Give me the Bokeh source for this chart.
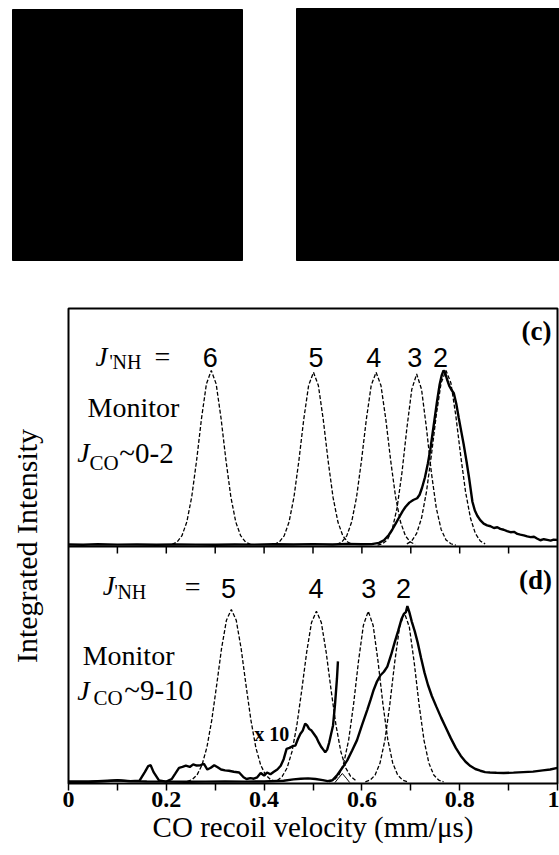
from bokeh.plotting import figure
from bokeh.layouts import column
from bokeh.models import Range1d, Span, Label, FixedTicker
from bokeh.embed import file_html
from bokeh.resources import INLINE

SERIF = "Liberation Serif"
SANS = "Liberation Sans"

# ---------------- data ----------------
# panel (c): monitor J_CO ~ 0-2 ; dashed basis peaks J'_NH = 6,5,4,3,2
c_dash6_x = [0.212,0.222,0.232,0.242,0.252,0.262,0.272,0.282,0.292,0.302,0.312,0.322,0.332,0.342,0.352,0.362,0.372]
c_dash6_y = [0.006,0.020,0.056,0.135,0.278,0.487,0.726,0.923,1.000,0.923,0.726,0.487,0.278,0.135,0.056,0.020,0.006]
c_dash5_x = [0.421,0.431,0.441,0.451,0.461,0.471,0.481,0.491,0.501,0.511,0.521,0.531,0.541,0.551,0.561,0.571,0.581]
c_dash5_y = [0.006,0.020,0.055,0.134,0.275,0.482,0.719,0.914,0.990,0.914,0.719,0.482,0.275,0.134,0.055,0.020,0.006]
c_dash4_x = [0.549,0.559,0.569,0.579,0.589,0.599,0.609,0.619,0.629,0.639,0.649,0.659,0.669,0.679,0.689,0.699,0.709]
c_dash4_y = [0.006,0.020,0.055,0.134,0.275,0.482,0.719,0.914,0.990,0.914,0.719,0.482,0.275,0.134,0.055,0.020,0.006]
c_dash3_x = [0.632,0.642,0.652,0.662,0.672,0.682,0.692,0.702,0.712,0.722,0.732,0.742,0.752,0.762,0.772,0.782,0.792]
c_dash3_y = [0.002,0.010,0.032,0.092,0.216,0.418,0.671,0.892,0.980,0.892,0.671,0.418,0.216,0.092,0.032,0.010,0.002]
c_dash2_x = [0.692,0.702,0.712,0.722,0.732,0.742,0.752,0.762,0.772,0.782,0.792,0.802,0.812,0.822,0.832,0.842,0.852]
c_dash2_y = [0.009,0.026,0.069,0.157,0.306,0.514,0.743,0.929,1.000,0.929,0.743,0.514,0.306,0.157,0.069,0.026,0.009]

c_meas_x = [0, 0.03, 0.06, 0.1, 0.14, 0.18, 0.22, 0.26, 0.3, 0.34, 0.38, 0.42, 0.46, 0.5, 0.54, 0.57, 0.6, 0.62,
            0.635, 0.645, 0.655, 0.662, 0.669, 0.676, 0.683, 0.689, 0.697, 0.705, 0.713, 0.718, 0.723, 0.729,
            0.735, 0.740, 0.744, 0.749, 0.754, 0.759, 0.763, 0.767, 0.770, 0.774, 0.779, 0.783, 0.788, 0.793,
            0.798, 0.803, 0.808, 0.814, 0.819, 0.826, 0.831, 0.836, 0.842, 0.849, 0.856, 0.863, 0.870, 0.877,
            0.883, 0.890, 0.897, 0.904, 0.911, 0.918, 0.924, 0.931, 0.938, 0.945, 0.952, 0.958, 0.965, 0.972,
            0.979, 0.986, 0.992, 1.0]
c_meas_y = [0.006, 0.004, 0.007, 0.005, 0.006, 0.004, 0.006, 0.005, 0.004, 0.006, 0.005, 0.007, 0.006, 0.008, 0.006, 0.009, 0.007, 0.008,
            0.015, 0.030, 0.060, 0.090, 0.125, 0.160, 0.195, 0.220, 0.245, 0.260, 0.270, 0.290, 0.330, 0.390,
            0.470, 0.550, 0.630, 0.730, 0.830, 0.920, 0.970, 1.000, 0.990, 0.950, 0.910, 0.890, 0.870, 0.810,
            0.730, 0.655, 0.580, 0.480, 0.390, 0.250, 0.200, 0.170, 0.145, 0.125, 0.115, 0.110, 0.100, 0.104,
            0.095, 0.090, 0.082, 0.076, 0.078, 0.066, 0.062, 0.058, 0.052, 0.048, 0.050, 0.040, 0.030, 0.036,
            0.032, 0.028, 0.033, 0.032]

# panel (d): monitor J_CO ~ 9-10 ; dashed basis peaks J'_NH = 5,4,3,2
d_dash5_x = [0.243,0.253,0.263,0.273,0.283,0.293,0.303,0.313,0.323,0.333,0.343,0.353,0.363,0.373,0.383,0.393,0.403,0.413,0.423]
d_dash5_y = [0.006,0.017,0.044,0.101,0.203,0.361,0.563,0.775,0.938,1.000,0.938,0.775,0.563,0.361,0.203,0.101,0.044,0.017,0.006]
d_dash4_x = [0.427,0.437,0.447,0.457,0.467,0.477,0.487,0.497,0.507,0.517,0.527,0.537,0.547,0.557,0.567,0.577,0.587]
d_dash4_y = [0.012,0.035,0.084,0.178,0.331,0.534,0.752,0.925,0.990,0.925,0.752,0.534,0.331,0.178,0.084,0.035,0.012]
d_dash3_x = [0.533,0.543,0.553,0.563,0.573,0.583,0.593,0.603,0.613,0.623,0.633,0.643,0.653,0.663,0.673,0.683,0.693]
d_dash3_y = [0.004,0.014,0.044,0.113,0.247,0.453,0.700,0.908,0.990,0.908,0.700,0.453,0.247,0.113,0.044,0.014,0.004]
d_dash2_x = [0.607,0.617,0.627,0.637,0.647,0.657,0.667,0.677,0.687,0.697,0.707,0.717,0.727,0.737,0.747,0.757,0.767]
d_dash2_y = [0.004,0.014,0.043,0.112,0.244,0.449,0.693,0.899,0.980,0.899,0.693,0.449,0.244,0.112,0.043,0.014,0.004]

d_meas_x = [0, 0.04, 0.08, 0.1, 0.12, 0.16, 0.2, 0.24, 0.28, 0.32, 0.36, 0.4, 0.44, 0.46, 0.475, 0.49, 0.505,
            0.52, 0.53, 0.54, 0.55, 0.56, 0.57, 0.58, 0.59, 0.60, 0.611, 0.618, 0.624, 0.631, 0.638, 0.645,
            0.652, 0.660, 0.667, 0.674, 0.681, 0.686, 0.690, 0.693, 0.697, 0.702, 0.708, 0.714, 0.721, 0.728,
            0.735, 0.743, 0.752, 0.762, 0.772, 0.782, 0.792, 0.802, 0.812, 0.822, 0.832, 0.842, 0.852, 0.862,
            0.875, 0.89, 0.91, 0.93, 0.95, 0.97, 0.985, 1.0]
d_meas_y = [0.004, 0.005, 0.010, 0.012, 0.008, 0.006, 0.005, 0.004, 0.005, 0.006, 0.005, 0.006, 0.010, 0.018, 0.022, 0.024, 0.020,
            0.014, 0.008, 0.014, 0.045, 0.085, 0.128, 0.185, 0.245, 0.330, 0.420, 0.480, 0.535, 0.585, 0.620, 0.640,
            0.670, 0.740, 0.810, 0.875, 0.945, 0.975, 0.985, 1.020, 0.985, 0.930, 0.875, 0.810, 0.720, 0.635,
            0.565, 0.500, 0.440, 0.375, 0.315, 0.255, 0.200, 0.155, 0.120, 0.095, 0.078, 0.068, 0.060, 0.058,
            0.056, 0.055, 0.057, 0.060, 0.063, 0.070, 0.075, 0.085]

# low-velocity part magnified x10
d_x10_x = [0, 0.045, 0.08, 0.1, 0.127, 0.145, 0.156, 0.163, 0.168, 0.174, 0.185, 0.2, 0.211, 0.218, 0.226, 0.233,
           0.240, 0.248, 0.255, 0.262, 0.270, 0.277, 0.284, 0.291, 0.298, 0.305, 0.312, 0.320, 0.328, 0.338, 0.349,
           0.358, 0.364, 0.372, 0.379, 0.386, 0.393, 0.400, 0.406, 0.413, 0.420, 0.427, 0.434, 0.440, 0.446, 0.452,
           0.458, 0.464, 0.469, 0.474, 0.479, 0.484, 0.488, 0.492, 0.497, 0.502, 0.507, 0.512, 0.517, 0.521, 0.525,
           0.529, 0.533, 0.537, 0.541, 0.545, 0.549, 0.551]
d_x10_y = [0.004, 0.004, 0.008, 0.013, 0.008, 0.010, 0.060, 0.095, 0.100, 0.060, 0.012, 0.005, 0.020, 0.050, 0.085, 0.090,
           0.097, 0.090, 0.105, 0.098, 0.100, 0.107, 0.075, 0.085, 0.100, 0.088, 0.075, 0.070, 0.068, 0.062, 0.058,
           0.030, 0.020, 0.025, 0.022, 0.030, 0.055, 0.040, 0.058, 0.048, 0.062, 0.075, 0.097, 0.135, 0.194, 0.200,
           0.210, 0.213, 0.250, 0.280, 0.300, 0.340, 0.330, 0.310, 0.300, 0.280, 0.260, 0.230, 0.205, 0.190, 0.175,
           0.190, 0.230, 0.280, 0.330, 0.450, 0.600, 0.700]

d_spike_x = [0.545, 0.552, 0.560, 0.568, 0.575]
d_spike_y = [0.000, 0.025, 0.052, 0.025, 0.000]

# peak labels
c_labels = ["6", "5", "4", "3", "2"]
c_label_x = [0.290, 0.506, 0.624, 0.708, 0.761]
d_labels = ["5", "4", "3", "2"]
d_label_x = [0.327, 0.506, 0.614, 0.685]

x_major = [0, 0.2, 0.4, 0.6, 0.8, 1]
x_minor = [0.1, 0.3, 0.5, 0.7, 0.9]
x_tick_labels = {0: "0", 0.2: "0.2", 0.4: "0.4", 0.6: "0.6", 0.8: "0.8", 1: "1"}

# blacked-out photographs above the spectra (page pixels)
photo_left = [12, 296]
photo_right = [242, 560]
photo_top = [9, 8]
photo_bottom = [260, 260]

# ---------------- layout ----------------
W = 559
TOP_H = 298
MAIN_H = 557
B_L, B_R, B_T, B_B = 68, 2, 10, 72
FRAME_H = MAIN_H - B_T - B_B
C_BASE = 237      # px below frame top
C_UNIT = 175
D_BASE = 474
D_UNIT = 173
DIV = 238

yc_end = C_BASE / C_UNIT
yc_start = -(FRAME_H - C_BASE) / C_UNIT
yd_end = D_BASE / D_UNIT
yd_start = -(FRAME_H - D_BASE) / D_UNIT
y_div = -(DIV - C_BASE) / C_UNIT
tick_len = 7 / C_UNIT

# ---------------- top strip ----------------
t = figure(width=W, height=TOP_H, x_range=Range1d(0, W), y_range=Range1d(TOP_H, 0),
           output_backend="svg", toolbar_location=None, min_border=0,
           x_axis_type=None, y_axis_type=None)
if "frame_align" in t.properties():
    t.frame_align = False
t.outline_line_color = None
t.grid.visible = False
t.quad(left=photo_left, right=photo_right, top=photo_top, bottom=photo_bottom,
       fill_color="black", line_color="black")

# ---------------- main figure ----------------
p = figure(width=W, height=MAIN_H, x_range=Range1d(0, 1), y_range=Range1d(yc_start, yc_end),
           output_backend="svg", toolbar_location=None,
           min_border_left=B_L, min_border_right=B_R, min_border_top=B_T, min_border_bottom=B_B)
if "frame_align" in p.properties():
    p.frame_align = False
p.extra_y_ranges = {"d": Range1d(yd_start, yd_end)}
p.grid.visible = False
p.outline_line_color = "black"
p.outline_line_width = 2
p.background_fill_color = "white"
p.border_fill_color = "white"

ya = p.yaxis[0]
ya.ticker = FixedTicker(ticks=[])
ya.major_tick_out = 0
ya.major_tick_in = 0
ya.minor_tick_out = 0
ya.minor_tick_in = 0
ya.axis_line_color = None
ya.axis_label = "Integrated Intensity"
ya.axis_label_text_font = SERIF
ya.axis_label_text_font_size = "30px"
ya.axis_label_text_font_style = "normal"
ya.axis_label_text_color = "black"
ya.axis_label_standoff = 26

xa = p.xaxis[0]
xa.ticker = FixedTicker(ticks=x_major, minor_ticks=x_minor)
xa.major_label_overrides = x_tick_labels
xa.major_tick_out = 7
xa.major_tick_in = 0
xa.minor_tick_out = 7
xa.minor_tick_in = 0
xa.major_tick_line_width = 1.5
xa.minor_tick_line_width = 1.5
xa.major_tick_line_color = "black"
xa.minor_tick_line_color = "black"
xa.axis_line_color = None
xa.major_label_text_font = SERIF
xa.major_label_text_font_size = "24px"
xa.major_label_text_font_style = "bold"
xa.major_label_text_color = "black"
xa.major_label_standoff = 1
xa.axis_label = "CO recoil velocity (mm/\u03bcs)"
xa.axis_label_text_font = SERIF
xa.axis_label_text_font_size = "29px"
xa.axis_label_text_font_style = "normal"
xa.axis_label_text_color = "black"
xa.axis_label_standoff = 1

DASH = dict(line_color="black", line_width=1.3, line_dash="4 2")
SOLID = dict(line_color="black", line_width=2.4)

for xs, ys in [(c_dash6_x, c_dash6_y), (c_dash5_x, c_dash5_y), (c_dash4_x, c_dash4_y),
               (c_dash3_x, c_dash3_y), (c_dash2_x, c_dash2_y)]:
    p.line(xs, ys, **DASH)
p.line(c_meas_x, c_meas_y, **SOLID)

for xs, ys in [(d_dash5_x, d_dash5_y), (d_dash4_x, d_dash4_y),
               (d_dash3_x, d_dash3_y), (d_dash2_x, d_dash2_y)]:
    p.line(xs, ys, y_range_name="d", **DASH)
p.line(d_spike_x, d_spike_y, y_range_name="d", line_color="black", line_width=1.0)
p.line(d_meas_x, d_meas_y, y_range_name="d", **SOLID)
p.line(d_x10_x, d_x10_y, y_range_name="d", **SOLID)

# divider between the two panels, with its ticks hanging into (d)
p.add_layout(Span(location=y_div, dimension="width", line_color="black", line_width=2))
div_ticks = x_minor + x_major[1:-1]
p.segment(x0=div_ticks, y0=[y_div] * len(div_ticks), x1=div_ticks,
          y1=[y_div - tick_len] * len(div_ticks), line_color="black", line_width=1.5)


def txt(x, y, s, size, font=SERIF, style="normal", align="left", rng="default"):
    p.add_layout(Label(x=x, y=y, text=s, text_font=font, text_font_size=size,
                       text_font_style=style, text_align=align, text_baseline="alphabetic",
                       text_color="black", y_range_name=rng))


# panel (c) annotations
txt(0.055, 1.080, "J", "27px", style="italic")
txt(0.084, 1.051, "'", "18px")
txt(0.090, 1.046, "NH", "20px")
txt(0.192, 1.082, "=", "28px", align="center")
for s, x in zip(c_labels, c_label_x):
    txt(x, 1.074, s, "27px", font=SANS, align="center")
txt(0.957, 1.223, "(c)", "27px", style="bold", align="center")
txt(0.039, 0.789, "Monitor", "28px")
txt(0.018, 0.531, "J", "28px", style="italic")
txt(0.043, 0.469, "CO", "21px")
txt(0.104, 0.531, "~0-2", "29px")

# panel (d) annotations
txt(0.070, 1.133, "J", "27px", style="italic", rng="d")
txt(0.094, 1.104, "'", "18px", rng="d")
txt(0.100, 1.104, "NH", "20px", rng="d")
txt(0.254, 1.135, "=", "28px", align="center", rng="d")
for s, x in zip(d_labels, d_label_x):
    txt(x, 1.121, s, "27px", font=SANS, align="center", rng="d")
txt(0.955, 1.168, "(d)", "27px", style="bold", align="center", rng="d")
txt(0.029, 0.734, "Monitor", "28px", rng="d")
txt(0.018, 0.532, "J", "28px", style="italic", rng="d")
txt(0.051, 0.486, "CO", "21px", rng="d")
txt(0.114, 0.532, "~9-10", "29px", rng="d")
txt(0.380, 0.283, "x 10", "20px", style="bold", rng="d")

layout = column(t, p)
open("out.html", "w").write(file_html(layout, INLINE))
